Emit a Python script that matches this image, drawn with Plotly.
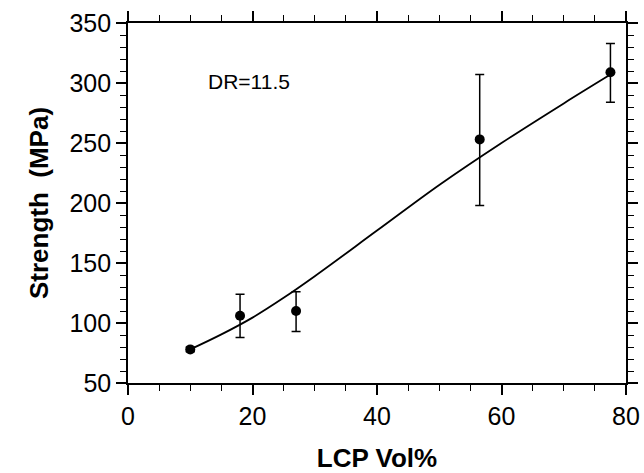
import plotly.graph_objects as go

# Measured data
lcp_vol = [10, 18, 27, 56.5, 77.5]
strength = [78, 106, 110, 253, 309]
err_plus = [2, 18, 16, 54, 24]
err_minus = [2, 18, 17, 55, 25]

# Fitted curve
fit_x = [10, 15, 20, 25, 30, 40, 50, 60, 70, 77.5]
fit_y = [78, 90.5, 104.5, 121, 139, 177, 215, 250, 283, 307]

annotation_text = "DR=11.5"

FONT = "Liberation Sans, Arial, Helvetica, sans-serif"

fig = go.Figure()
fig.add_trace(go.Scatter(
    x=fit_x, y=fit_y, mode="lines", line=dict(color="black", width=1.8, shape="spline", smoothing=1.0),
    showlegend=False, hoverinfo="skip"))
fig.add_trace(go.Scatter(
    x=lcp_vol, y=strength, mode="markers",
    marker=dict(color="black", size=10, symbol="circle"),
    error_y=dict(type="data", array=err_plus, arrayminus=err_minus, color="black",
                 thickness=1.5, width=4.5),
    showlegend=False))

fig.add_annotation(x=19.4, y=301, text=annotation_text, showarrow=False,
                   font=dict(size=21, color="black", family=FONT))

axis_common = dict(
    showgrid=False, zeroline=False, showline=True, linecolor="black", linewidth=1.6,
    mirror="allticks", ticks="outside", ticklen=10, tickwidth=1.6, tickcolor="black",
    tickfont=dict(size=25, color="black", family=FONT),
    automargin=False,
)

fig.update_xaxes(range=[0, 80], dtick=20, tick0=0,
                 minor=dict(dtick=5, ticks="outside", ticklen=6, tickwidth=1.3, tickcolor="black"),
                 title=dict(text="<b>LCP Vol%</b>", standoff=20,
                            font=dict(size=26, color="black", family=FONT)),
                 **axis_common)
fig.update_yaxes(range=[50, 350], dtick=50, tick0=50,
                 minor=dict(dtick=10, ticks="outside", ticklen=6, tickwidth=1.3, tickcolor="black"),
                 title=dict(text="<b>Strength  (MPa)</b>", standoff=13,
                            font=dict(size=26, color="black", family=FONT)),
                 **axis_common)

fig.update_layout(
    width=644, height=473,
    margin=dict(l=128, r=18, t=23, b=90),
    plot_bgcolor="white", paper_bgcolor="white",
)

fig.write_html("out.html", config={"displayModeBar": False},
               post_script="document.body.style.margin='0px';")
